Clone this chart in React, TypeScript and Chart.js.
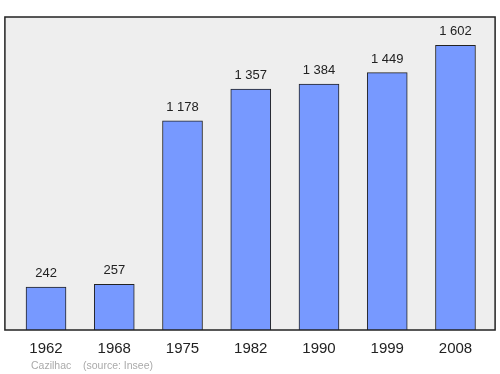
import React, { useEffect, useRef } from "react";
import { Chart, registerables } from "chart.js";

Chart.register(...registerables);

const years = ["1962", "1968", "1975", "1982", "1990", "1999", "2008"];
const population = [242, 257, 1178, 1357, 1384, 1449, 1602];
const footerPlace = "Cazilhac";
const footerSource = "(source: Insee)";

const FONT = "'Liberation Sans', Arial, sans-serif";

function fmt(n: number): string {
  return String(n).replace(/\B(?=(\d{3})+(?!\d))/g, " ");
}

const framePlugin = {
  id: "frame",
  beforeDraw(chart: any) {
    const { ctx, chartArea } = chart;
    const left = chartArea.left - 7;
    const right = chartArea.right + 5.5;
    ctx.save();
    ctx.fillStyle = "#eeeeee";
    ctx.fillRect(left, chartArea.top, right - left, chartArea.bottom - chartArea.top);
    ctx.strokeStyle = "#222222";
    ctx.lineWidth = 1.5;
    ctx.strokeRect(left, chartArea.top, right - left, chartArea.bottom - chartArea.top);
    ctx.restore();
  },
  afterDatasetsDraw(chart: any) {
    const { ctx } = chart;
    const meta = chart.getDatasetMeta(0);
    ctx.save();
    ctx.font = `13px ${FONT}`;
    ctx.fillStyle = "#222222";
    ctx.textAlign = "center";
    ctx.textBaseline = "alphabetic";
    meta.data.forEach((bar: any, i: number) => {
      ctx.fillText(fmt(population[i]), bar.x, bar.y - 10);
    });
    ctx.font = `10.5px ${FONT}`;
    ctx.fillStyle = "#aaaaaa";
    ctx.textAlign = "left";
    ctx.fillText(footerPlace, 31, 369);
    ctx.fillText(footerSource, 83, 369);
    ctx.restore();
  },
};

export default function App() {
  const ref = useRef<HTMLCanvasElement>(null);
  useEffect(() => {
    document.body.style.margin = "0";
    const chart = new Chart(ref.current!, {
      type: "bar",
      data: {
        labels: years,
        datasets: [
          {
            data: population,
            backgroundColor: "#7799ff",
            borderColor: "#222222",
            borderWidth: 1,
            barThickness: 40,
            borderSkipped: false,
          },
        ],
      },
      options: {
        animation: false,
        responsive: false,
        layout: { padding: { top: 17, left: 11.9, right: 10.4, bottom: 6 } },
        plugins: { legend: { display: false }, tooltip: { enabled: false } },
        scales: {
          x: {
            grid: { display: false, drawTicks: false },
            border: { display: false },
            ticks: { font: { family: FONT, size: 15 }, color: "#222222", padding: 10 },
          },
          y: {
            display: false,
            min: 0,
            max: Math.max(...population) * 1.1,
          },
        },
      },
      plugins: [framePlugin],
    });
    return () => chart.destroy();
  }, []);
  return (
    <div style={{ width: 500, height: 374 }}>
      <canvas ref={ref} width={500} height={374} />
    </div>
  );
}
